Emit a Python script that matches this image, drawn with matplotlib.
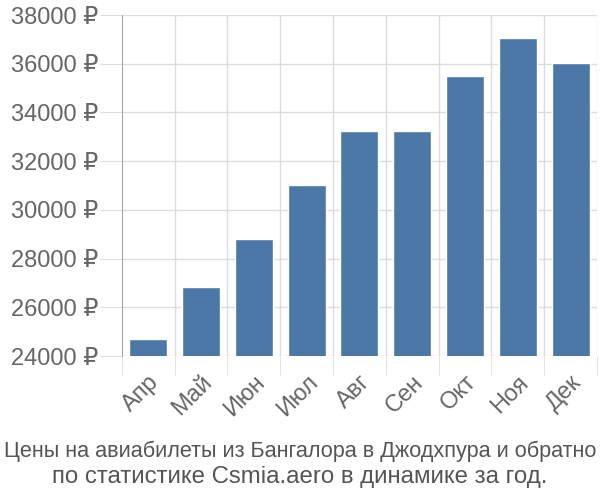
import matplotlib
matplotlib.use('Agg')
import matplotlib.pyplot as plt
import numpy as np

plt.rcParams['font.family'] = ['Liberation Sans', 'DejaVu Sans']

# Данные
months = ['Апр', 'Май', 'Июн', 'Июл', 'Авг', 'Сен', 'Окт', 'Ноя', 'Дек']
prices = [24700, 26830, 28800, 31020, 33240, 33240, 35480, 37050, 36020]
yticks = [24000, 26000, 28000, 30000, 32000, 34000, 36000, 38000]
title1 = 'Цены на авиабилеты из Бангалора в Джодхпура и обратно'
title2 = 'по статистике Csmia.aero в динамике за год.'

fig = plt.figure(figsize=(6, 5), dpi=100)
ax = fig.add_axes([0.203, 0.288, 0.792, 0.682])

x = np.arange(len(months))
ax.bar(x, prices, width=0.72, color='#4c78a8', edgecolor='white', linewidth=1, zorder=3)

ax.set_xlim(-0.5, len(months) - 0.5)
ax.set_ylim(yticks[0], yticks[-1])

# сетка и засечки
ax.set_yticks(yticks)
ax.set_yticklabels([f'{v} ₽' for v in yticks])
ax.set_xticks(x)
ax.set_xticklabels(months, rotation=45, ha='right', rotation_mode='anchor')
ax.set_xticks(np.arange(-0.5, len(months)), minor=True)

ax.tick_params(axis='y', length=16, color='#dddddd', labelsize=17, labelcolor='#666666', pad=1)
ax.tick_params(axis='x', which='major', length=0, labelsize=17, labelcolor='#666666', pad=11)
ax.tick_params(axis='x', which='minor', length=14, color='#dddddd')

ax.grid(True, axis='y', color='#dddddd', linewidth=1, zorder=0)
ax.grid(True, axis='x', which='minor', color='#dddddd', linewidth=1, zorder=0)

for s in ['top', 'right', 'bottom']:
    ax.spines[s].set_visible(False)
ax.spines['left'].set_color('#aaaaaa')
ax.spines['left'].set_zorder(4)

# подпись снизу (первая строка сжата по ширине, как в оригинале)
fig.text(0.5, 0.086, title1, ha='center', va='baseline', fontsize=15.6, color='#555555')
fig.text(0.5, 0.034, title2, ha='center', va='baseline', fontsize=17.3, color='#555555')

plt.savefig('out.png', dpi=100)
